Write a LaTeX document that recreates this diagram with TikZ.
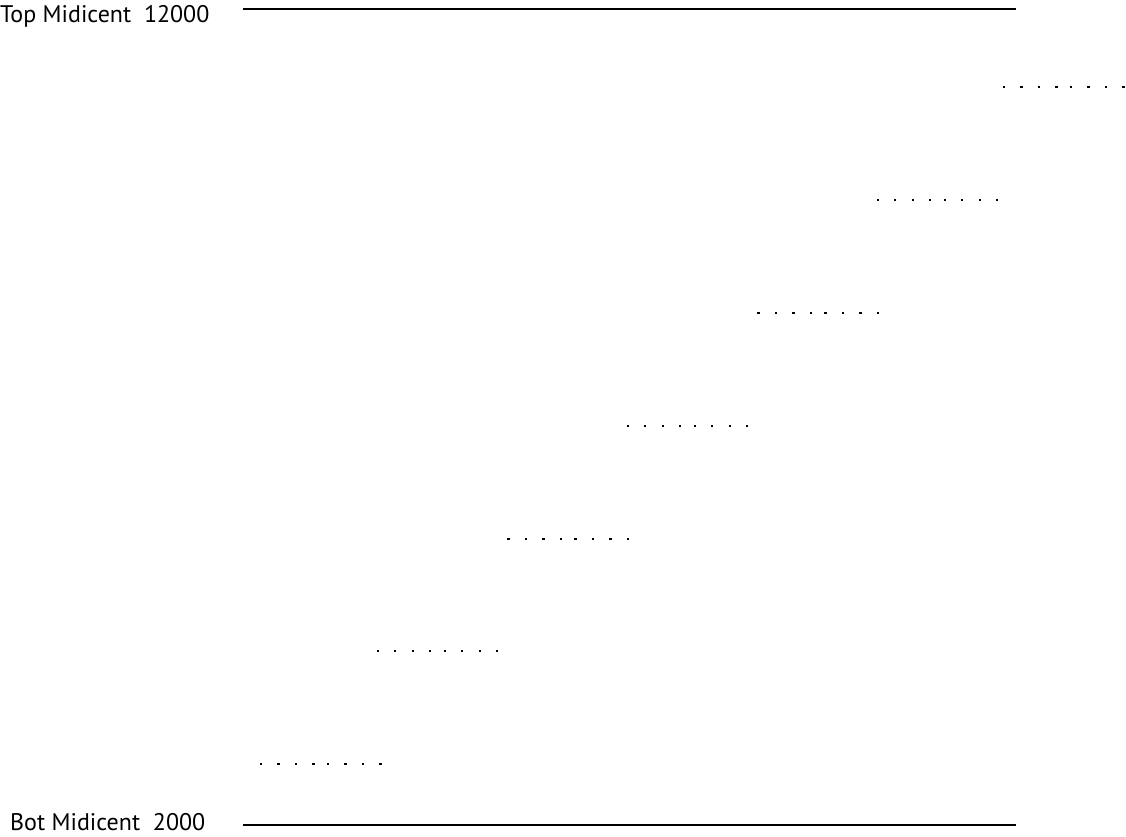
\documentclass[tikz,border=0pt]{standalone}
\usepackage{fontspec}
\setmainfont{PT Sans}
\begin{document}
\begin{tikzpicture}[x=1pt,y=-1pt,
  rule/.style={line width=2pt,black},
  lbl/.style={anchor=base west,inner sep=0pt,font=\fontsize{24}{28}\selectfont},
  dotmark/.style={fill=black}]
\useasboundingbox (0,0) rectangle (1126,837);
\node[lbl] (top) at (0,23) {Top Midicent\ \ 12000};
\node[lbl] (bot) at (10,830) {Bot Midicent\ \ 2000};
\coordinate (t1) at (243,9);
\coordinate (t2) at (1016,9);
\coordinate (b1) at (243,825);
\coordinate (b2) at (1016,825);
\draw[rule] (t1) -- (t2);
\draw[rule] (b1) -- (b2);
\foreach \sx/\sy in {1004/87.3, 877.7/200, 758.3/312.7, 627.7/426.3, 508.3/538.7, 377.7/651.3, 261/764}{
  \foreach \o in {0,17.5,35,52.5,67,84.5,102,119.5}{
    \fill[dotmark] (\sx+\o-1.2,\sy-0.9) rectangle (\sx+\o+1.2,\sy+0.9);
  }
}
\end{tikzpicture}
\end{document}
